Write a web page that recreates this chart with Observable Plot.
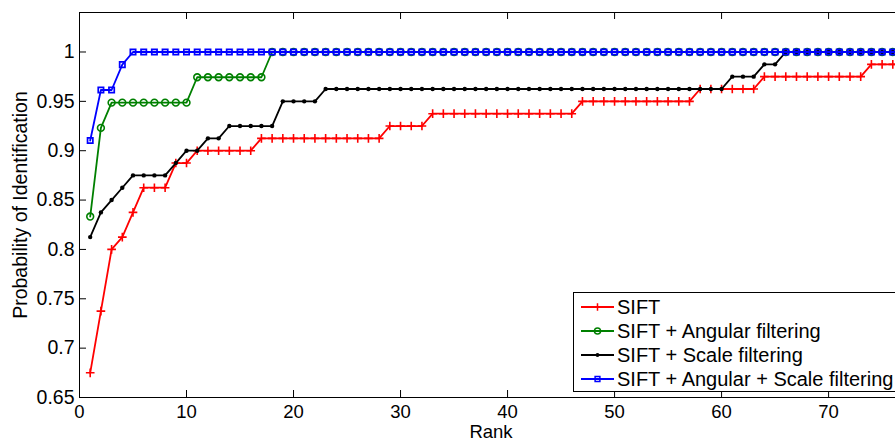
<!DOCTYPE html>
<html>
<head>
<meta charset="utf-8">
<script src="https://cdn.jsdelivr.net/npm/d3@7"></script>
<script src="https://cdn.jsdelivr.net/npm/@observablehq/plot@0.6"></script>
<style>
  html, body { margin: 0; padding: 0; background: #fff; overflow: hidden; }
  #wrap { position: relative; width: 910px; height: 442px; font-family: "Liberation Sans", Arial, Helvetica, sans-serif; }
  .ttl { position: absolute; font-size: 19.5px; line-height: 1; white-space: nowrap; color: #000; }
  #xtitle { line-height: 0.75; font-size: 18.5px; }
  #legend { position: absolute; left: 573px; top: 292px; width: 340px; border: 1.5px solid #000; background: #fff; padding: 2px 0 0 7px; box-sizing: border-box; }
  .row { display: flex; align-items: center; height: 24px; font-size: 20px; white-space: nowrap; }
  .row svg { margin-right: 3px; }
</style>
</head>
<body>
<div id="wrap"></div>
<script>
// ---- data ----
const ranks = d3.range(1, 78);
const seriesNames = ["SIFT", "SIFT + Angular filtering", "SIFT + Scale filtering", "SIFT + Angular + Scale filtering"];
const seriesColors = ["#ff0000", "#008000", "#000000", "#0000ff"];
const xTicks = [0, 10, 20, 30, 40, 50, 60, 70];
const yTicks = [0.65, 0.7, 0.75, 0.8, 0.85, 0.9, 0.95, 1];

const sift = [
  0.675, 0.7375, 0.8, 0.8125, 0.8375, 0.8625, 0.8625, 0.8625, 0.8875, 0.8875,
  0.9, 0.9, 0.9, 0.9, 0.9, 0.9, 0.9125, 0.9125, 0.9125, 0.9125,
  0.9125, 0.9125, 0.9125, 0.9125, 0.9125, 0.9125, 0.9125, 0.9125, 0.925, 0.925,
  0.925, 0.925, 0.9375, 0.9375, 0.9375, 0.9375, 0.9375, 0.9375, 0.9375, 0.9375,
  0.9375, 0.9375, 0.9375, 0.9375, 0.9375, 0.9375, 0.95, 0.95, 0.95, 0.95,
  0.95, 0.95, 0.95, 0.95, 0.95, 0.95, 0.95, 0.9625, 0.9625, 0.9625,
  0.9625, 0.9625, 0.9625, 0.975, 0.975, 0.975, 0.975, 0.975, 0.975, 0.975,
  0.975, 0.975, 0.975, 0.9875, 0.9875, 0.9875, 0.9875
];
const siftAngular = [
  0.8333, 0.9231, 0.9487, 0.9487, 0.9487, 0.9487, 0.9487, 0.9487, 0.9487, 0.9487,
  0.9744, 0.9744, 0.9744, 0.9744, 0.9744, 0.9744, 0.9744, 1, 1, 1,
  1, 1, 1, 1, 1, 1, 1, 1, 1, 1,
  1, 1, 1, 1, 1, 1, 1, 1, 1, 1,
  1, 1, 1, 1, 1, 1, 1, 1, 1, 1,
  1, 1, 1, 1, 1, 1, 1, 1, 1, 1,
  1, 1, 1, 1, 1, 1, 1, 1, 1, 1,
  1, 1, 1, 1, 1, 1, 1
];
const siftScale = [
  0.8125, 0.8375, 0.85, 0.8625, 0.875, 0.875, 0.875, 0.875, 0.8875, 0.9,
  0.9, 0.9125, 0.9125, 0.925, 0.925, 0.925, 0.925, 0.925, 0.95, 0.95,
  0.95, 0.95, 0.9625, 0.9625, 0.9625, 0.9625, 0.9625, 0.9625, 0.9625, 0.9625,
  0.9625, 0.9625, 0.9625, 0.9625, 0.9625, 0.9625, 0.9625, 0.9625, 0.9625, 0.9625,
  0.9625, 0.9625, 0.9625, 0.9625, 0.9625, 0.9625, 0.9625, 0.9625, 0.9625, 0.9625,
  0.9625, 0.9625, 0.9625, 0.9625, 0.9625, 0.9625, 0.9625, 0.9625, 0.9625, 0.9625,
  0.975, 0.975, 0.975, 0.9875, 0.9875, 1, 1, 1, 1, 1,
  1, 1, 1, 1, 1, 1, 1
];
const siftAngularScale = [
  0.9103, 0.9615, 0.9615, 0.9872, 1, 1, 1, 1, 1, 1,
  1, 1, 1, 1, 1, 1, 1, 1, 1, 1,
  1, 1, 1, 1, 1, 1, 1, 1, 1, 1,
  1, 1, 1, 1, 1, 1, 1, 1, 1, 1,
  1, 1, 1, 1, 1, 1, 1, 1, 1, 1,
  1, 1, 1, 1, 1, 1, 1, 1, 1, 1,
  1, 1, 1, 1, 1, 1, 1, 1, 1, 1,
  1, 1, 1, 1, 1, 1, 1
];

// ---- build ----
const allSeries = [sift, siftAngular, siftScale, siftAngularScale];
const tables = allSeries.map((vals, i) => ranks.map((r, j) => ({rank: r, p: vals[j], s: seriesNames[i]})));

const markerSpec = [
  {symbol: "plus", r: 2.9, fill: "none", strokeWidth: 1.6},
  {symbol: "circle", r: 3.4, fill: "none", strokeWidth: 1.6},
  {symbol: "circle", r: 2.2, fill: "#000000", strokeWidth: 0},
  {symbol: "square2", r: 3.4, fill: "none", strokeWidth: 1.7}
];

const W = 910, H = 442, mL = 79, mR = 7, mT = 12, mB = 45;
const innerW = W - mL - mR, innerH = H - mT - mB, tickLen = 7;

const marks = [];
tables.forEach((t, i) => {
  marks.push(Plot.line(t, {x: "rank", y: "p", stroke: seriesColors[i], strokeWidth: 1.8}));
  const m = markerSpec[i];
  marks.push(Plot.dot(t, {x: "rank", y: "p", symbol: () => m.symbol, r: m.r,
    stroke: seriesColors[i], fill: m.fill === "none" ? "none" : m.fill, strokeWidth: m.strokeWidth || 0.01}));
});

const chart = Plot.plot({
  width: W, height: H,
  marginLeft: mL, marginRight: mR, marginTop: mT, marginBottom: mB,
  style: {fontFamily: '"Liberation Sans", Arial, Helvetica, sans-serif', fontSize: "19.5px", background: "#fff", color: "#000"},
  x: {domain: [0, 77]},
  y: {domain: [0.65, 1.04]},
  symbol: {type: "identity"},
  marks: [
    ...marks,
    Plot.frame({stroke: "#000", strokeWidth: 1}),
    Plot.tickX(xTicks, {x: d => d, insetTop: innerH - tickLen, stroke: "#000", strokeWidth: 1}),
    Plot.tickX(xTicks, {x: d => d, insetBottom: innerH - tickLen, stroke: "#000", strokeWidth: 1}),
    Plot.tickY(yTicks, {y: d => d, insetRight: innerW - tickLen, stroke: "#000", strokeWidth: 1}),
    Plot.tickY(yTicks, {y: d => d, insetLeft: innerW - tickLen, stroke: "#000", strokeWidth: 1}),
    Plot.axisX({ticks: xTicks, tickSize: 0, tickPadding: 7, fontSize: 18.5, label: null, tickFormat: d => String(d)}),
    Plot.axisY({ticks: yTicks, tickSize: 0, tickPadding: 5, label: null, tickFormat: d => String(+d.toFixed(2))})
  ]
});

const wrap = document.getElementById("wrap");
wrap.appendChild(chart);

// axis titles
const xt = document.createElement("div");
xt.className = "ttl";
xt.id = "xtitle";
xt.textContent = "Rank";
xt.style.left = (mL + innerW / 2) + "px";
xt.style.top = "431.6px";
xt.style.transform = "translate(-50%,-50%)";
wrap.appendChild(xt);

const yt = document.createElement("div");
yt.className = "ttl";
yt.textContent = "Probability of Identification";
yt.style.left = "20.7px";
yt.style.top = (mT + innerH / 2) + "px";
yt.style.transform = "translate(-50%,-50%) rotate(-90deg)";
wrap.appendChild(yt);

// legend
const lg = document.createElement("div");
lg.id = "legend";
seriesNames.forEach((name, i) => {
  const row = document.createElement("div");
  row.className = "row";
  const svg = d3.create("svg").attr("width", 33).attr("height", 24);
  svg.append("line").attr("x1", 0).attr("x2", 33).attr("y1", 12).attr("y2", 12)
    .attr("stroke", seriesColors[i]).attr("stroke-width", 1.8);
  const m = markerSpec[i];
  const sym = {plus: d3.symbolPlus, circle: d3.symbolCircle, square2: d3.symbolSquare2}[m.symbol];
  const size = Math.PI * m.r * m.r * 0.8;
  svg.append("path").attr("transform", "translate(16.5,12)")
    .attr("d", d3.symbol(sym, size)())
    .attr("fill", m.fill === "none" ? "none" : m.fill)
    .attr("stroke", m.fill === "none" ? seriesColors[i] : "none")
    .attr("stroke-width", 1.5);
  row.appendChild(svg.node());
  const span = document.createElement("span");
  span.textContent = name;
  row.appendChild(span);
  lg.appendChild(row);
});
wrap.appendChild(lg);
</script>
</body>
</html>
